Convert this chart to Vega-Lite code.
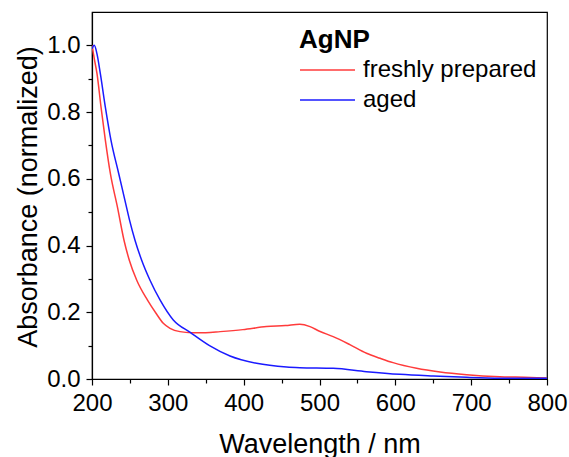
{
  "$schema": "https://vega.github.io/schema/vega-lite/v6.json",
  "width": 455,
  "height": 367,
  "autosize": {"type": "none"},
  "padding": {"left": 92, "top": 12, "right": 22, "bottom": 78},
  "background": "white",
  "config": {
    "font": "Liberation Sans",
    "view": {"stroke": "#000", "strokeWidth": 1.2},
    "axis": {
      "domainColor": "#000", "domainWidth": 1.2,
      "tickColor": "#000", "tickWidth": 1.2,
      "labelColor": "#000", "titleColor": "#000",
      "labelFont": "Liberation Sans", "titleFont": "Liberation Sans",
      "labelFontSize": 24, "titleFontSize": 27, "titleFontWeight": "normal",
      "grid": false
    }
  },
  "data": {
    "values": [
      {"wl": 200, "a": 1.0, "s": "freshly prepared"},
      {"wl": 203, "a": 0.96, "s": "freshly prepared"},
      {"wl": 206.6, "a": 0.915, "s": "freshly prepared"},
      {"wl": 211.9, "a": 0.815, "s": "freshly prepared"},
      {"wl": 217.6, "a": 0.716, "s": "freshly prepared"},
      {"wl": 224.2, "a": 0.616, "s": "freshly prepared"},
      {"wl": 233.5, "a": 0.516, "s": "freshly prepared"},
      {"wl": 242.2, "a": 0.416, "s": "freshly prepared"},
      {"wl": 249.2, "a": 0.356, "s": "freshly prepared"},
      {"wl": 259, "a": 0.296, "s": "freshly prepared"},
      {"wl": 273, "a": 0.237, "s": "freshly prepared"},
      {"wl": 284.4, "a": 0.197, "s": "freshly prepared"},
      {"wl": 294, "a": 0.167, "s": "freshly prepared"},
      {"wl": 302.9, "a": 0.152, "s": "freshly prepared"},
      {"wl": 316, "a": 0.142, "s": "freshly prepared"},
      {"wl": 331.5, "a": 0.139, "s": "freshly prepared"},
      {"wl": 350, "a": 0.139, "s": "freshly prepared"},
      {"wl": 369, "a": 0.142, "s": "freshly prepared"},
      {"wl": 399, "a": 0.148, "s": "freshly prepared"},
      {"wl": 430, "a": 0.157, "s": "freshly prepared"},
      {"wl": 455, "a": 0.16, "s": "freshly prepared"},
      {"wl": 474, "a": 0.164, "s": "freshly prepared"},
      {"wl": 487.5, "a": 0.157, "s": "freshly prepared"},
      {"wl": 500, "a": 0.143, "s": "freshly prepared"},
      {"wl": 518, "a": 0.127, "s": "freshly prepared"},
      {"wl": 540, "a": 0.103, "s": "freshly prepared"},
      {"wl": 562, "a": 0.077, "s": "freshly prepared"},
      {"wl": 580, "a": 0.062, "s": "freshly prepared"},
      {"wl": 597, "a": 0.049, "s": "freshly prepared"},
      {"wl": 628, "a": 0.032, "s": "freshly prepared"},
      {"wl": 659, "a": 0.021, "s": "freshly prepared"},
      {"wl": 694, "a": 0.013, "s": "freshly prepared"},
      {"wl": 738, "a": 0.007, "s": "freshly prepared"},
      {"wl": 770, "a": 0.005, "s": "freshly prepared"},
      {"wl": 800, "a": 0.003, "s": "freshly prepared"},
      {"wl": 200, "a": 0.99, "s": "aged"},
      {"wl": 203, "a": 1.0, "s": "aged"},
      {"wl": 206.5, "a": 0.975, "s": "aged"},
      {"wl": 211, "a": 0.915, "s": "aged"},
      {"wl": 217.6, "a": 0.815, "s": "aged"},
      {"wl": 225, "a": 0.716, "s": "aged"},
      {"wl": 235.2, "a": 0.616, "s": "aged"},
      {"wl": 244.5, "a": 0.525, "s": "aged"},
      {"wl": 249.5, "a": 0.476, "s": "aged"},
      {"wl": 256.7, "a": 0.416, "s": "aged"},
      {"wl": 265.5, "a": 0.356, "s": "aged"},
      {"wl": 276.5, "a": 0.296, "s": "aged"},
      {"wl": 289.7, "a": 0.237, "s": "aged"},
      {"wl": 307.2, "a": 0.177, "s": "aged"},
      {"wl": 330, "a": 0.139, "s": "aged"},
      {"wl": 355, "a": 0.1, "s": "aged"},
      {"wl": 382, "a": 0.069, "s": "aged"},
      {"wl": 417, "a": 0.047, "s": "aged"},
      {"wl": 456.7, "a": 0.036, "s": "aged"},
      {"wl": 474, "a": 0.034, "s": "aged"},
      {"wl": 518, "a": 0.032, "s": "aged"},
      {"wl": 562, "a": 0.022, "s": "aged"},
      {"wl": 606, "a": 0.014, "s": "aged"},
      {"wl": 650, "a": 0.009, "s": "aged"},
      {"wl": 694, "a": 0.005, "s": "aged"},
      {"wl": 738, "a": 0.0025, "s": "aged"},
      {"wl": 800, "a": 0.002, "s": "aged"}
    ]
  },
  "layer": [
    {
      "mark": {"type": "line", "strokeWidth": 1.5, "interpolate": "monotone", "clip": true},
      "encoding": {
        "x": {
          "field": "wl", "type": "quantitative",
          "scale": {"domain": [200, 800], "nice": false},
          "axis": {
            "orient": "bottom",
            "values": [200, 300, 400, 500, 600, 700, 800],
            "tickSize": 6, "labelPadding": 6,
            "labelFlush": false, "labelOverlap": false,
            "title": "Wavelength / nm",
            "titleBaseline": "alphabetic", "titleY": 73, "titleX": 227.5
          }
        },
        "y": {
          "field": "a", "type": "quantitative",
          "scale": {"domain": [0, 1.1], "nice": false},
          "axis": {
            "orient": "left",
            "values": [0, 0.2, 0.4, 0.6, 0.8, 1.0],
            "format": ".1f",
            "tickSize": 6, "labelPadding": 6,
            "labelFlush": false, "labelOverlap": false,
            "title": "Absorbance (normalized)",
            "titleBaseline": "alphabetic", "titleAngle": -90,
            "titleX": -56, "titleY": 184.5
          }
        },
        "color": {
          "field": "s", "type": "nominal",
          "scale": {"domain": ["freshly prepared", "aged"], "range": ["#ff3b3b", "#1a1aff"]},
          "legend": {
            "orient": "none", "legendX": 207, "legendY": 15,
            "title": "AgNP", "titleFontSize": 26, "titleFontWeight": "bold", "titleColor": "#000",
            "titleFont": "Liberation Sans",
            "labelFontSize": 24, "labelColor": "#000", "labelFont": "Liberation Sans", "labelLimit": 0,
            "symbolType": "stroke", "symbolSize": 3025, "symbolStrokeWidth": 1.5,
            "clipHeight": 24,
            "labelOffset": 7, "rowPadding": 6, "titlePadding": 5, "padding": 0
          }
        }
      }
    },
    {
      "mark": {"type": "line", "opacity": 0},
      "encoding": {
        "x": {
          "field": "wl", "type": "quantitative",
          "scale": {"domain": [200, 800], "nice": false},
          "axis": {
            "orient": "bottom", "values": [250, 350, 450, 550, 650, 750],
            "tickSize": 4, "labels": false, "domain": false, "title": null
          }
        },
        "y": {
          "field": "a", "type": "quantitative",
          "scale": {"domain": [0, 1.1], "nice": false},
          "axis": {
            "orient": "left", "values": [0.1, 0.3, 0.5, 0.7, 0.9],
            "tickSize": 4, "labels": false, "domain": false, "title": null
          }
        },
        "detail": {"field": "s", "type": "nominal"}
      }
    }
  ],
  "resolve": {"axis": {"x": "independent", "y": "independent"}}
}
